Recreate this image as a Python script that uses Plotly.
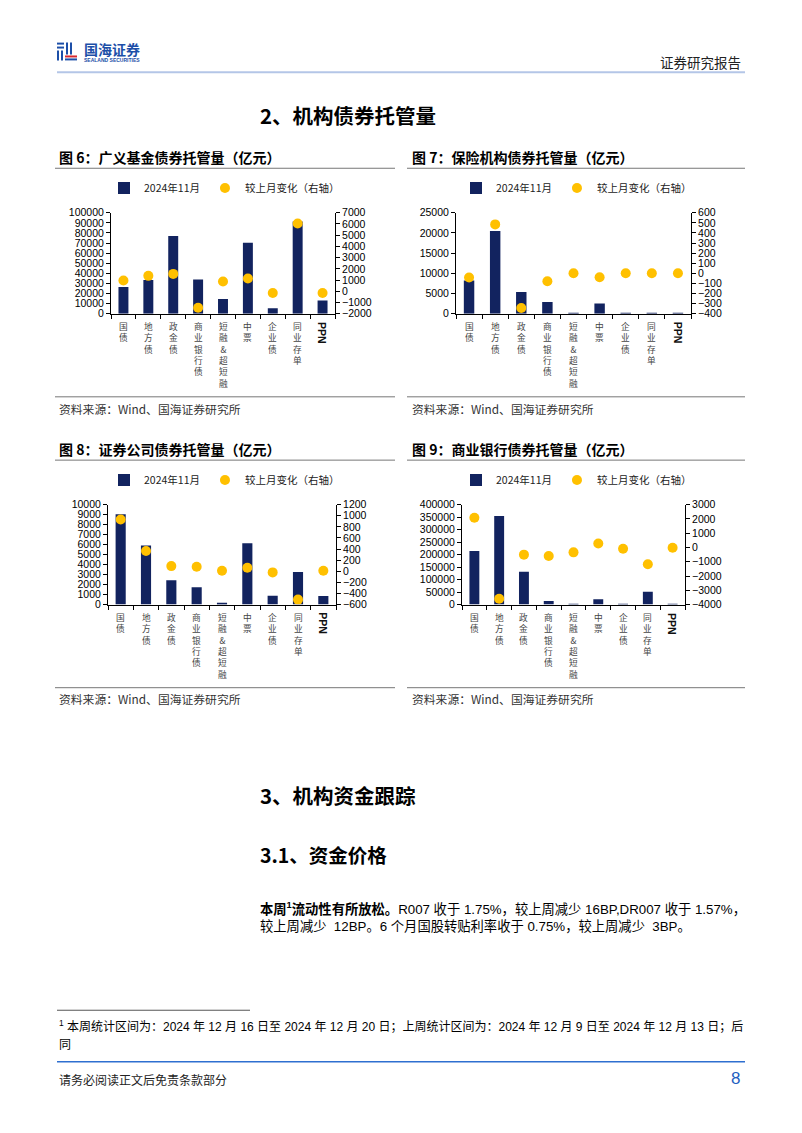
import plotly.graph_objects as go

# ---------------- data ----------------
categories = ["国债", "地方债", "政金债", "商业银行债", "短融&超短融", "中票", "企业债", "同业存单", "PPN"]

fund_stock = [26500, 33500, 77000, 33900, 14500, 70400, 5300, 91400, 13200]
fund_change = [960, 1375, 1550, -1465, 870, 1140, -160, 6050, -160]

ins_stock = [8220, 20480, 5350, 2880, 20, 2550, 160, 80, 10]
ins_change = [-41, 485, -344, -78, 0, -38, 0, 0, 0]

sec_stock = [9050, 5920, 2430, 1740, 130, 6150, 890, 3260, 860]
sec_change = [933, 365, 93, 81, 10, 63, -20, -510, 10]

bank_stock = [214500, 355000, 131600, 14500, 1300, 21000, 500, 51300, 1500]
bank_change = [2080, -3590, -500, -590, -340, 283, -85, -1170, -15]

series_names = ["2024年11月", "较上月变化（右轴）"]
fig_titles = ["图 6：广义基金债券托管量（亿元）", "图 7：保险机构债券托管量（亿元）",
              "图 8：证券公司债券托管量（亿元）", "图 9：商业银行债券托管量（亿元）"]
source_text = "资料来源：Wind、国海证券研究所"

# ---------------- style / layout ----------------
W, H = 802, 1133
NAVY = "#12235f"
GOLD = "#FFC000"
SANS = "Liberation Sans, Arial, Noto Sans CJK SC"
CJK = "Noto Sans CJK SC, Liberation Sans"


def px(x):
    return x / W


def py(y):
    return 1 - y / H


panels = [
    dict(stock=fund_stock, change=fund_change, lrange=[0, 100000], ldtick=10000,
         rrange=[-2000, 7000], rdtick=1000, box=(111, 335, 209, 311), legx=104, legy=184),
    dict(stock=ins_stock, change=ins_change, lrange=[0, 25000], ldtick=5000,
         rrange=[-400, 600], rdtick=100, box=(456, 691, 209, 311), legx=456, legy=184),
    dict(stock=sec_stock, change=sec_change, lrange=[0, 10000], ldtick=1000,
         rrange=[-600, 1200], rdtick=200, box=(108, 336, 504, 605), legx=104, legy=479),
    dict(stock=bank_stock, change=bank_change, lrange=[0, 400000], ldtick=50000,
         rrange=[-4000, 3000], rdtick=1000, box=(462, 685, 504, 605), legx=456, legy=479),
]

fig = go.Figure()
layout = dict(width=W, height=H, margin=dict(l=0, r=0, t=0, b=0), autosize=False,
              paper_bgcolor="white", plot_bgcolor="white", showlegend=True,
              font=dict(family=SANS, size=11, color="black"))
annotations = []
shapes = []

tickfont = dict(family=SANS, size=10.5, color="black")

for i, p in enumerate(panels):
    n = i + 1
    xname = "xaxis" if n == 1 else f"xaxis{n}"
    xref = "x" if n == 1 else f"x{n}"
    ly = 2 * i + 1
    ry = 2 * i + 2
    lyname = "yaxis" if ly == 1 else f"yaxis{ly}"
    lyref = "y" if ly == 1 else f"y{ly}"
    ryname = f"yaxis{ry}"
    ryref = f"y{ry}"
    legname = "legend" if n == 1 else f"legend{n}"
    x0, x1, yt, yb = p["box"]

    layout[xname] = dict(domain=[px(x0), px(x1)], anchor=lyref, type="category",
                         range=[-0.5, len(categories) - 0.5], showline=True,
                         linecolor="black", linewidth=1, ticks="outside",
                         tickson="boundaries", ticklen=4, tickcolor="black",
                         showticklabels=False, showgrid=False, zeroline=False)
    layout[lyname] = dict(domain=[py(yb), py(yt)], anchor=xref, range=p["lrange"],
                          dtick=p["ldtick"], tick0=0, tickformat="d", showline=True,
                          linecolor="black", linewidth=1, ticks="outside", ticklen=4,
                          tickcolor="black", showgrid=False, zeroline=False, tickfont=tickfont)
    layout[ryname] = dict(overlaying=lyref, side="right", anchor=xref, range=p["rrange"],
                          dtick=p["rdtick"], tick0=0, tickformat="d", showline=True,
                          linecolor="black", linewidth=1, ticks="outside", ticklen=4,
                          tickcolor="black", showgrid=False, zeroline=False, tickfont=tickfont)
    layout[legname] = dict(orientation="h", x=px(p["legx"]), y=py(p["legy"]),
                           xanchor="left", yanchor="middle", bgcolor="rgba(0,0,0,0)",
                           font=dict(family=CJK, size=10.5, color="#222"),
                           itemwidth=30, tracegroupgap=0)

    fig.add_trace(go.Bar(x=categories, y=p["stock"], name=series_names[0],
                         marker=dict(color=NAVY, line=dict(width=0)), width=0.4,
                         xaxis=xref, yaxis=lyref, legend=legname))
    fig.add_trace(go.Scatter(x=categories, y=p["change"], name=series_names[1],
                             mode="markers", marker=dict(color=GOLD, size=10),
                             xaxis=xref, yaxis=ryref, legend=legname))

    # category labels (vertical writing)
    for c in categories:
        if c == "PPN":
            annotations.append(dict(x=c, xref=xref, y=py(yb + 6), yref="paper",
                                    text="<b>PPN</b>", textangle=90, showarrow=False,
                                    xanchor="center", yanchor="top",
                                    font=dict(family=SANS, size=10.5, color="#111")))
        else:
            annotations.append(dict(x=c, xref=xref, y=py(yb + 4), yref="paper",
                                    text="<br>".join(list(c)), showarrow=False,
                                    xanchor="center", yanchor="top",
                                    font=dict(family=CJK, size=8.7, color="#444")))


def text(x, y, s, size, color="black", xanchor="left", yanchor="middle", family=SANS):
    annotations.append(dict(x=px(x), y=py(y), xref="paper", yref="paper", text=s,
                            showarrow=False, xanchor=xanchor, yanchor=yanchor,
                            font=dict(family=family, size=size, color=color)))


def hline(x0, x1, y, color, width):
    shapes.append(dict(type="line", xref="paper", yref="paper", x0=px(x0), x1=px(x1),
                       y0=py(y), y1=py(y), line=dict(color=color, width=width)))


def rect(x0, y0, x1, y1, color):
    shapes.append(dict(type="rect", xref="paper", yref="paper", x0=px(x0), x1=px(x1),
                       y0=py(y1), y1=py(y0), fillcolor=color, line=dict(width=0)))


# header / logo
BLUE = "#1D4FA8"
rect(57, 37, 64, 39, BLUE)
rect(57, 41, 64, 43, BLUE)
rect(57, 45, 59, 55, BLUE)
rect(61, 45, 63, 55, BLUE)
rect(66, 37, 68, 49, BLUE)
rect(70, 37, 72, 49, BLUE)
rect(65, 50, 77, 52, "#D7282F")
rect(65, 53, 77, 55, BLUE)
text(82, 43, "<b>国海证券</b>", 14, BLUE, family=CJK)
text(82, 55, "<b>SEALAND SECURITIES</b>", 5, BLUE)
text(743, 57, "证券研究报告", 13.5, "#222", xanchor="right", family=CJK)
hline(57, 745, 67, "#B4C6E7", 2)

# section title
text(258, 110, "<b>2、机构债券托管量</b>", 20.5, family=CJK)

# figure titles & sources
TS = 14
SS = 11.8
text(57, 153, "<b>" + fig_titles[0] + "</b>", TS, family=CJK)
text(410, 153, "<b>" + fig_titles[1] + "</b>", TS, family=CJK)
hline(55, 395, 164, "#777", 1)
hline(407, 745, 164, "#777", 1)
hline(55, 395, 395, "#777", 1)
hline(407, 745, 395, "#777", 1)
text(57, 407, source_text, SS, "#333", family=CJK)
text(410, 407, source_text, SS, "#333", family=CJK)

text(57, 448, "<b>" + fig_titles[2] + "</b>", TS, family=CJK)
text(410, 448, "<b>" + fig_titles[3] + "</b>", TS, family=CJK)
hline(55, 395, 459, "#777", 1)
hline(407, 745, 459, "#777", 1)
hline(55, 395, 689, "#777", 1)
hline(407, 745, 689, "#777", 1)
text(57, 700, source_text, SS, "#333", family=CJK)
text(410, 700, source_text, SS, "#333", family=CJK)

# section 3
text(258, 797, "<b>3、机构资金跟踪</b>", 20.5, family=CJK)
text(258, 858, "<b>3.1、资金价格</b>", 19.5, family=CJK)
text(258, 912, "<b>本周<sup>1</sup>流动性有所放松。</b>R007 收于 1.75%，较上周减少 16BP,DR007 收于 1.57%，",
     13.3, family=SANS)
text(258, 930, "较上周减少  12BP。6 个月国股转贴利率收于 0.75%，较上周减少  3BP。", 13.3, family=SANS)

# footnote
hline(57, 250, 1015, "#555", 1)
text(57, 1031, "<sup>1</sup> 本周统计区间为：2024 年 12 月 16 日至 2024 年 12 月 20 日；上周统计区间为：2024 年 12 月 9 日至 2024 年 12 月 13 日；后",
     12, family=SANS)
text(57, 1049, "同", 12, family=CJK)

# footer
hline(57, 745, 1067, "#2E6FD0", 1.5)
text(57, 1085, "请务必阅读正文后免责条款部分", 12, "#222", family=CJK)
text(735, 1084, "8", 17, "#1F5FBF", xanchor="center")

layout["annotations"] = annotations
layout["shapes"] = shapes
fig.update_layout(**layout)
fig.write_html("out.html")
